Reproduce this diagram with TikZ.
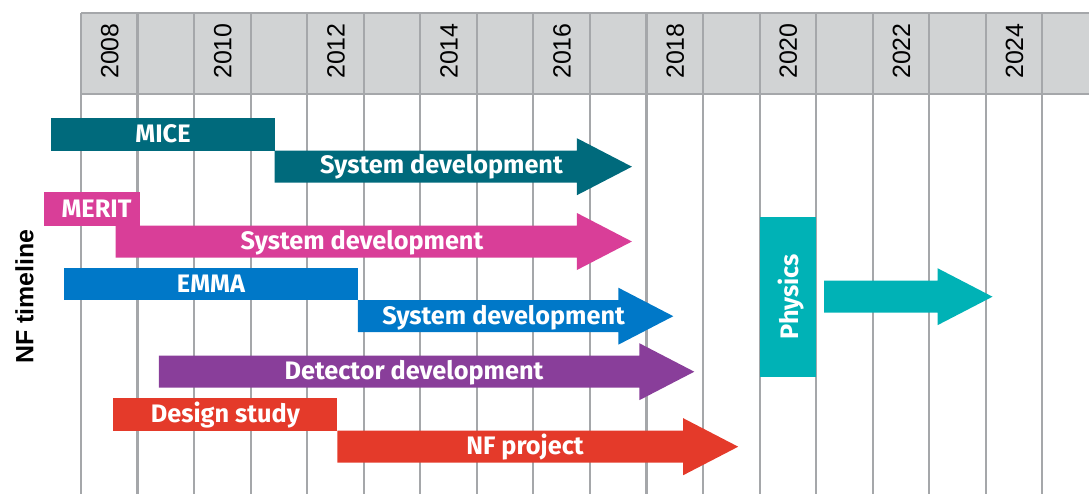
\documentclass[tikz,border=0pt]{standalone}
\usepackage{fontspec}
\setsansfont{Liberation Sans}
\newfontfamily\barfont{Fira Sans}
\definecolor{micecol}{RGB}{0,106,124}
\definecolor{meritcol}{RGB}{217,62,152}
\definecolor{emmacol}{RGB}{0,120,200}
\definecolor{detcol}{RGB}{137,62,154}
\definecolor{nfcol}{RGB}{228,58,42}
\definecolor{physcol}{RGB}{0,178,182}
\definecolor{headgray}{RGB}{209,211,212}
\definecolor{linegray}{RGB}{165,167,170}
\tikzset{
  gridline/.style={draw=linegray, line width=1.2pt},
  yearlabel/.style={font=\sffamily\fontsize{14.2}{16}\selectfont, rotate=90, anchor=base, inner sep=0},
  barlabel/.style={font=\barfont\bfseries\fontsize{14.4}{16}\selectfont, text=white, inner sep=0, anchor=base},
}
% arrow: colour, start x, tip x, middle y
\newcommand\planarrow[4]{%
  \fill[#1] (#2,#4-16) -- (#3-55,#4-16) -- (#3-55,#4-28.5) -- (#3,#4)
    -- (#3-55,#4+28.5) -- (#3-55,#4+16) -- (#2,#4+16) -- cycle;}

\begin{document}
\begin{tikzpicture}[x=0.02cm, y=-0.02cm]
  \useasboundingbox (0,0) rectangle (1089,494);

  % year header and grid
  \fill[headgray] (81,12.7) rectangle (1089,94);
  \foreach \k in {0,...,17}
    \draw[gridline] (81+56.55*\k,12.7) -- (81+56.55*\k,494);
  \draw[gridline] (81,12.7) -- (1089,12.7);
  \draw[gridline] (81,94) -- (1089,94);
  \foreach \yr [count=\i from 0] in {2008,2010,...,2024}
    \node[yearlabel] (y\yr) at (81+113.1*\i+37.3,51) {\yr};

  \node[yearlabel, font=\sffamily\bfseries\fontsize{14.2}{16}\selectfont] (nftitle) at (33.3,296.5) {NF timeline};

  % MICE
  \fill[micecol] (51,117.7) rectangle (274.6,151);
  \node[barlabel] (mice) at (163,142.5) {MICE};
  \planarrow{micecol}{274.6}{631.9}{166.7}
  \node[barlabel] (micesys) at (441.5,173.5) {System development};

  % MERIT
  \fill[meritcol] (44,192.3) rectangle (140,225.7);
  \node[barlabel] (merit) at (96.5,217.2) {MERIT};
  \planarrow{meritcol}{115.7}{631.9}{241.5}
  \node[barlabel] (meritsys) at (362,249.5) {System development};

  % EMMA
  \fill[emmacol] (63.5,268.3) rectangle (357.8,300);
  \node[barlabel] (emma) at (211,292.3) {EMMA};
  \planarrow{emmacol}{357.8}{673.3}{316.2}
  \node[barlabel] (emmasys) at (503.6,324) {System development};

  % detector
  \planarrow{detcol}{158.9}{694.3}{371.7}
  \node[barlabel] (detector) at (414,379.5) {Detector development};

  % design study and project
  \fill[nfcol] (113.3,397.7) rectangle (337.4,430.7);
  \node[barlabel] (design) at (225.4,422.2) {Design study};
  \planarrow{nfcol}{337.4}{738.2}{446.7}
  \node[barlabel] (nfproj) at (525,454.5) {NF project};

  % physics
  \fill[physcol] (759.9,216.7) rectangle (816.4,376.7);
  \node[barlabel, rotate=90, anchor=center, text depth=0pt] (physics) at (788.2,296.7) {Physics};
  \planarrow{physcol}{824.1}{992.5}{296.7}
\end{tikzpicture}
\end{document}
